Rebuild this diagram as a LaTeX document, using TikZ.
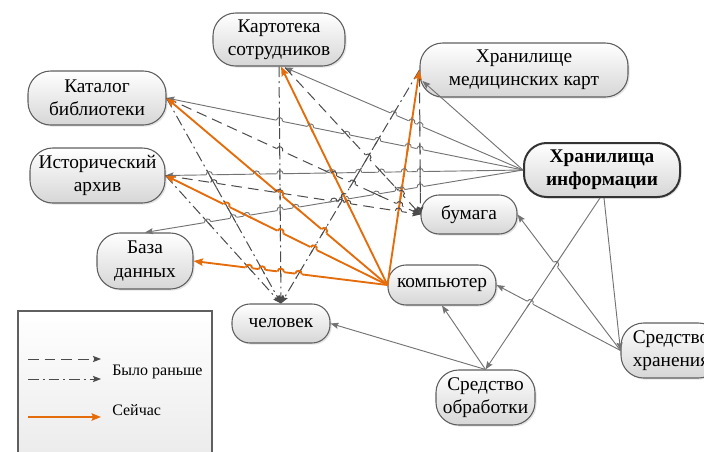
\documentclass[tikz,border=0pt]{standalone}
\usepackage{fontspec}
\setmainfont{Liberation Serif}
\usetikzlibrary{arrows.meta,shadows,calc,intersections}
\definecolor{orng}{RGB}{228,108,10}
\definecolor{edgegray}{RGB}{115,115,115}
\definecolor{dashgray}{RGB}{75,75,75}
\definecolor{bordergray}{RGB}{95,95,95}
\begin{document}
\begin{tikzpicture}[x=0.75pt,y=-0.75pt,
  box/.style={draw=bordergray, line width=0.8pt, top color=white, bottom color=black!16,
    drop shadow={shadow xshift=1.2pt,shadow yshift=-1.2pt,opacity=0.22},
    align=center, inner sep=0pt, rounded corners=17pt,
    font=\fontsize{14.5}{17.5}\selectfont},
  smallbox/.style={box, rounded corners=13.5pt},
  tipg/.style={-{Stealth[length=6pt,width=4.6pt,inset=1pt]}},
  solidedge/.style={tipg, draw=edgegray, line width=0.7pt},
  dashedge/.style={tipg, draw=dashgray, line width=0.75pt, dash pattern=on 8pt off 4.5pt},
  dotedge/.style={tipg, draw=dashgray, line width=0.75pt, dash pattern=on 8pt off 3pt on 1.4pt off 3pt},
  nowedge/.style={-{Stealth[length=7pt,width=5.5pt,inset=1pt]}, draw=orng, line width=1.4pt},
  legtext/.style={anchor=west, inner sep=0pt, font=\fontsize{12}{14}\selectfont}
]
\useasboundingbox (0,0) rectangle (704,451);

% legend frame
\draw[draw=bordergray, line width=0.8pt, top color=white, bottom color=black!9] (18,311) rectangle (212,480);

% nodes
\node[box, minimum width=99pt, minimum height=39.75pt] (kart) at (279,39.5) {Картотека\\сотрудников};
\node[box, minimum width=156pt, minimum height=40.5pt] (med) at (524,70) {Хранилище\\медицинских карт};
\node[box, minimum width=103.5pt, minimum height=40.5pt] (kat) at (97,98) {Каталог\\библиотеки};
\node[box, minimum width=101.25pt, minimum height=41.25pt] (ist) at (97.5,175.5) {Исторический\\архив};
\node[box, line width=1.5pt, draw=black!80, minimum width=117pt, minimum height=40.5pt, font=\fontsize{14.5}{17.5}\selectfont\bfseries] (hi) at (602,170) {Хранилища\\информации};
\node[smallbox, minimum width=72pt, minimum height=29.25pt] (bum) at (469,214.5) {бумага};
\node[box, minimum width=72pt, minimum height=42pt] (bd) at (145,261) {База\\данных};
\node[smallbox, minimum width=81pt, minimum height=30pt] (komp) at (442,285) {компьютер};
\node[smallbox, minimum width=73.5pt, minimum height=29.25pt] (chel) at (281,323.5) {человек};
\node[box, minimum width=74.25pt, minimum height=41.25pt] (so) at (485.5,397.5) {Средство\\обработки};
\node[box, minimum width=75pt, minimum height=41.25pt] (sh) at (671,350.5) {Средство\\хранения};

% helper points
\coordinate (kartA) at ($(kart.south)+(6,1)$);
\coordinate (kartO) at ($(kart.south)+(2,0)$);
\coordinate (medA) at ($(med.west)+(3,11)$);
\coordinate (medD) at ($(med.west)+(0,6)$);
\coordinate (hiS1) at ($(hi.south)+(-2,0)$);
\coordinate (hiS2) at ($(hi.south)+(2,0)$);

% solid grey connectors
\draw[solidedge] (hi.west) -- (kartA);
\draw[solidedge] (hi.west) -- (medA);
\draw[solidedge] (hi.west) -- (kat.east);
\draw[solidedge] (hi.west) -- (ist.east);
\draw[solidedge] (hi.west) -- (bd.north);
\draw[solidedge] (hiS1) -- (so.north);
\draw[solidedge] (hiS2) -- (sh.west);
\draw[solidedge] (sh.west) -- (bum.east);
\draw[solidedge] (sh.west) -- (komp.east);
\draw[solidedge] (so.north) -- (komp.south);
\draw[solidedge] (so.north) -- (chel.east);

% dashed: formerly on paper
\draw[dashedge] (kat.east) -- (bum.west);
\draw[dashedge] (kartA) -- (bum.west);
\draw[dashedge] (ist.east) -- (bum.west);
\draw[dashedge] (medD) -- (bum.west);

% dash-dotted: formerly processed by a person
\draw[dotedge] (kat.east) -- (chel.north);
\draw[dotedge] (ist.east) -- (chel.north);
\draw[dotedge] (kart.south) -- (chel.north);
\draw[dotedge] (med.west) -- (chel.north);

% orange: now
\draw[nowedge] (komp.west) -- (kat.east);
\draw[nowedge] (komp.west) -- (ist.east);
\draw[nowedge] (komp.west) -- (bd.east);
\draw[nowedge] (komp.west) -- (kartO);
\draw[nowedge] (komp.west) -- (med.west);

% ---- line jumps (the more horizontal line hops over the steeper one)
\newcommand{\regline}[3]{%
  \coordinate (S#1) at (#2); \coordinate (E#1) at (#3);
  \coordinate (P#1) at ($(#2)!6pt!(#3)$); \coordinate (Q#1) at ($(#3)!6pt!(#2)$);}
\regline{G1}{kartA}{hi.west}
\regline{G2}{medA}{hi.west}
\regline{G3}{kat.east}{hi.west}
\regline{G4}{ist.east}{hi.west}
\regline{G5}{bd.north}{hi.west}
\regline{G6}{so.north}{hiS1}
\regline{G7}{hiS2}{sh.west}
\regline{G8}{bum.east}{sh.west}
\regline{G9}{komp.east}{sh.west}
\regline{G10}{komp.south}{so.north}
\regline{G11}{chel.east}{so.north}
\regline{D1}{kat.east}{bum.west}
\regline{D2}{kartA}{bum.west}
\regline{D3}{ist.east}{bum.west}
\regline{D4}{medD}{bum.west}
\regline{C1}{kat.east}{chel.north}
\regline{C2}{ist.east}{chel.north}
\regline{C3}{kart.south}{chel.north}
\regline{C4}{chel.north}{med.west}
\regline{O1}{kat.east}{komp.west}
\regline{O2}{ist.east}{komp.west}
\regline{O3}{bd.east}{komp.west}
\regline{O4}{kartO}{komp.west}
\regline{O5}{komp.west}{med.west}
\def\linelist{G1/43/edgegray/0.7pt,G2/88/edgegray/0.7pt,G3/20/edgegray/0.7pt,G4/2/edgegray/0.7pt,G5/17/edgegray/0.7pt,G6/150/edgegray/0.7pt,G7/890/edgegray/0.7pt,G8/131/edgegray/0.7pt,G9/52/edgegray/0.7pt,G10/145/edgegray/0.7pt,G11/30/edgegray/0.7pt,D1/46/dashgray/0.75pt,D2/108/dashgray/0.75pt,D3/15/dashgray/0.75pt,D4/9998/dashgray/0.75pt,C1/179/dashgray/0.75pt,C2/111/dashgray/0.75pt,C3/9999/dashgray/0.75pt,C4/168/dashgray/0.75pt,O1/84/orng/1.4pt,O2/49/orng/1.4pt,O3/12/orng/1.4pt,O4/205/orng/1.4pt,O5/670/orng/1.4pt}
\foreach \la/\ra/\ca/\wa in \linelist {
  \foreach \lb/\rb/\cb/\wb in \linelist {
    \ifnum\ra<\rb\relax
      \pgfintersectionofpaths
        {\pgfpathmoveto{\pgfpointanchor{P\la}{center}}\pgfpathlineto{\pgfpointanchor{Q\la}{center}}}
        {\pgfpathmoveto{\pgfpointanchor{P\lb}{center}}\pgfpathlineto{\pgfpointanchor{Q\lb}{center}}}%
      \xdef\hopcount{\pgfintersectionsolutions}%
      \ifnum\hopcount>0\relax
        \pgfcoordinate{HX}{\pgfpointintersectionsolution{1}}%
        \draw[white, line width=\wa+0.8pt] ($(HX)!2.6pt!(S\la)$) -- ($(HX)!2.6pt!(E\la)$);
        \draw[\cb, line width=\wb] ($(HX)!4pt!(S\lb)$) -- ($(HX)!4pt!(E\lb)$);
        \draw[\ca, line width=\wa] ($(HX)!2.4pt!(S\la)$) to[bend left=90, looseness=1.7] ($(HX)!2.4pt!(E\la)$);
      \fi
    \fi
  }
}

% legend
\coordinate (l1a) at (28,359); \coordinate (l1b) at (101,359);
\coordinate (l2a) at (28,379); \coordinate (l2b) at (101,379);
\coordinate (l3a) at (28,417); \coordinate (l3b) at (101,417);
\draw[dashedge] (l1a) -- (l1b);
\draw[dotedge] (l2a) -- (l2b);
\draw[nowedge] (l3a) -- (l3b);
\node[legtext] (t1) at (112,372) {Было раньше};
\node[legtext] (t2) at (112,410) {Сейчас};
\end{tikzpicture}
\end{document}
